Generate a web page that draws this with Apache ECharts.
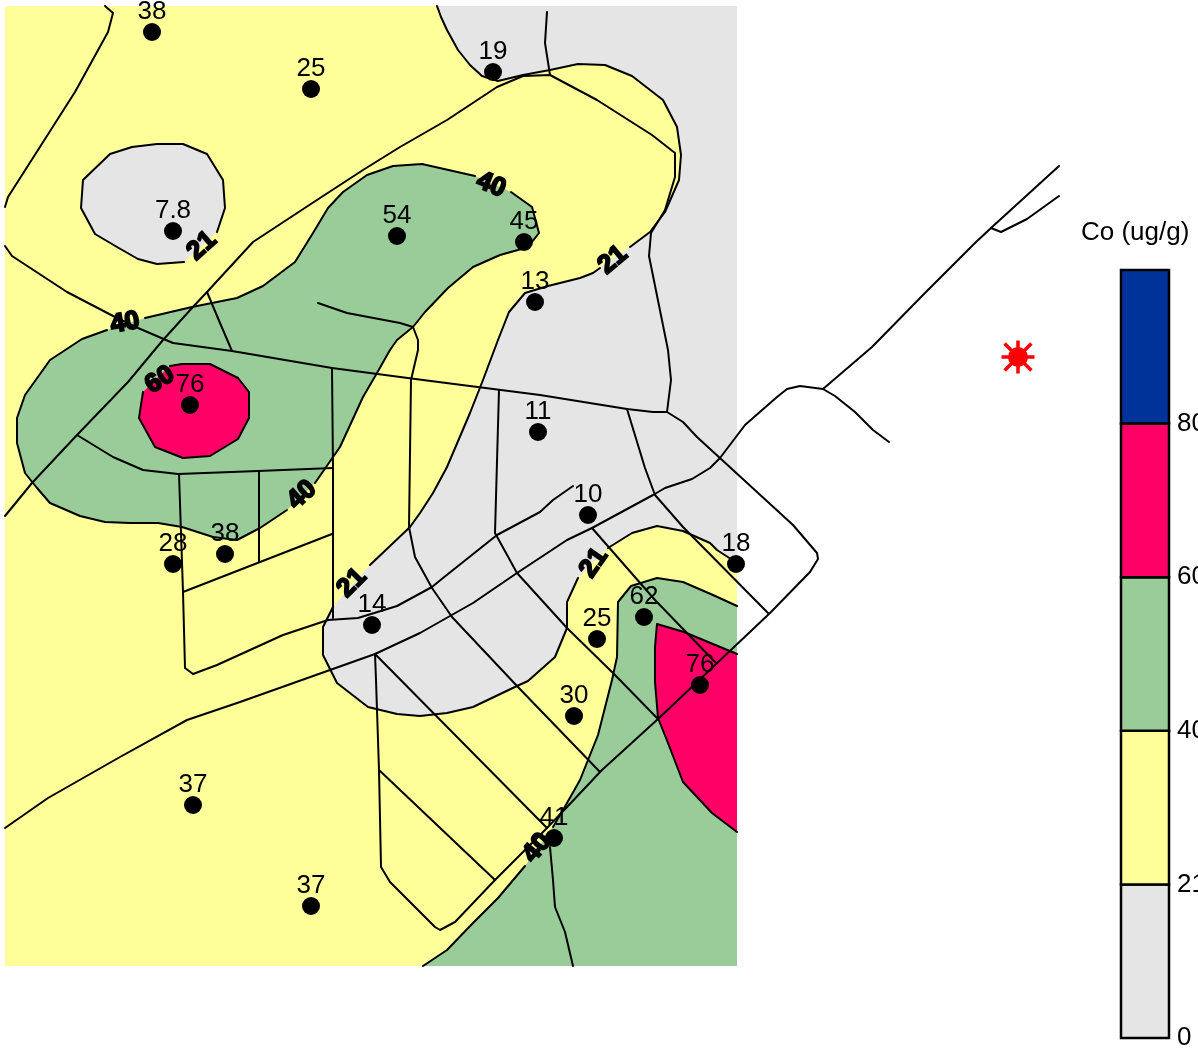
<!DOCTYPE html>
<html><head><meta charset="utf-8">
<style>html,body{margin:0;padding:0;background:#fff}#c{width:1198px;height:1049px}</style>
<script src="https://cdn.jsdelivr.net/npm/echarts@6/dist/echarts.min.js"></script>
</head><body><div id="c"></div>
<script>
// Map extent (map units = picture units)
const mapBox = [[5,6],[737,6],[737,966],[5,966]];

// Contour 21 : main boundary, broken at its labels
const c21a = [[437,6],[441,17],[447,30],[458,50],[470,65],[482,76],[498,81],[523,75],[550,70],[578,64],[605,65],[632,76],[663,100],[677,127],[681,155],[679,180],[665,212],[650,232],[630,247]];
const c21b = [[600,268],[593,273],[580,278],[548,286],[525,293],[509,312],[498,340],[483,380],[470,413],[447,467],[433,493],[420,513],[410,527],[370,565]];
const c21c = [[333,607],[323,627],[323,655],[332,673],[337,683],[368,707],[397,714],[420,716],[447,713],[473,707],[517,686],[528,681],[555,657],[567,628],[567,602],[578,578]];
const c21d = [[608,548],[632,533],[657,526],[683,531],[710,543],[717,550],[737,563]];
// Contour 21 : island round 7.8
const c21e = [[217,232],[225,208],[223,180],[207,154],[183,144],[157,144],[132,147],[110,154],[83,180],[81,208],[95,234],[117,247],[138,259],[157,264],[184,262]];
// Contour 40 : west body
const c40a = [[145,318],[192,307],[237,298],[263,286],[295,262],[313,233],[328,208],[343,192],[367,175],[393,166],[422,164],[475,176]];
const c40b = [[511,192],[532,207],[539,233],[532,242],[525,248],[500,255],[473,267],[448,288],[425,312],[413,327],[397,340],[390,350],[377,373],[363,397],[340,447],[315,483]];
const c40c = [[287,510],[260,528],[237,540],[213,537],[182,527],[158,523],[130,523],[105,522],[80,516],[50,503],[37,488],[25,473],[17,443],[17,418],[25,395],[50,360],[82,339],[107,330]];
// Contour 40 : south-east body
const c40d = [[423,966],[447,950],[473,923],[498,898],[525,866]];
const c40e = [[553,827],[567,803],[580,780],[598,735],[612,680],[617,657],[618,602],[631,586],[657,578],[683,582],[713,595],[737,606]];
// Contour 60 : west and south-east
const c60a = [[170,366],[182,364],[210,364],[222,370],[238,378],[249,392],[249,418],[238,439],[210,456],[183,458],[155,447],[139,418],[143,392]];
const c60b = [[737,654],[684,632],[657,624],[655,647],[655,682],[658,718],[668,743],[683,782],[712,813],[737,832]];

// Roads and shoreline tracks
const r01 = [[105,6],[113,13],[108,32],[75,92],[8,197],[5,207]];
const r02 = [[5,246],[12,256],[67,292],[115,317],[138,328],[173,343],[232,351],[332,368],[423,380],[540,395],[627,409],[653,412],[667,412],[683,422],[697,437],[793,525],[817,553],[818,559],[810,572],[770,613],[658,719],[602,770],[567,807],[547,828],[495,880],[455,922],[440,930],[435,927],[390,882],[381,867],[379,770],[376,680],[375,654]];
const r03 = [[667,412],[671,380],[668,350],[649,256],[651,233],[665,210],[675,177],[675,153],[652,135],[597,100],[550,75],[523,76],[497,87],[447,120],[400,147],[363,170],[320,198],[253,242],[207,292],[192,308],[163,340],[128,382],[77,435],[32,483],[5,516]];
const r04 = [[547,12],[545,43],[550,75]];
const r05 = [[77,435],[113,457],[143,470],[178,474],[258,471],[333,468]];
const r06 = [[332,368],[333,468],[333,618]];
const r07 = [[179,474],[183,592],[185,668],[193,674],[217,665],[283,635],[328,620],[358,618],[397,606],[432,587],[443,578],[497,535],[540,512],[553,500],[573,486]];
const r08 = [[183,592],[332,534]];
const r09 = [[259,471],[259,562]];
const r10 = [[207,292],[220,323],[232,351]];
const r11 = [[318,303],[347,313],[400,323],[413,327],[418,340],[418,350],[411,380],[409,527],[415,557],[432,588],[452,617],[517,686],[600,772]];
const r12 = [[5,828],[48,798],[120,757],[187,720],[240,702],[330,670],[375,654],[420,633],[473,603],[517,573],[567,540],[592,528],[653,495],[665,488],[692,479],[710,468],[720,458],[745,425],[777,397],[787,389],[800,386],[823,389],[835,396],[855,412],[873,430],[889,442]];
const r13 = [[823,389],[872,347],[923,295],[975,243],[991,228],[1059,166]];
const r14 = [[991,228],[1001,232],[1027,219],[1059,196]];
const r15 = [[499,390],[495,533],[517,573],[567,628],[613,673],[658,719]];
const r16 = [[375,654],[547,828]];
const r17 = [[379,770],[437,825],[495,880]];
const r18 = [[627,409],[645,468],[655,495],[683,527],[768,613]];
const r19 = [[592,528],[655,600],[715,662]];
const r20 = [[550,847],[553,880],[555,907],[565,932],[573,966]];

// Stations
const stationPoints = [[152,32],[311,89],[493,72],[173,231],[397,236],[524,242],[535,302],[190,405],[538,432],[588,515],[173,564],[225,554],[736,564],[372,625],[644,617],[597,639],[700,685],[574,716],[193,805],[554,838],[311,906]];
const stationValues = ['38','25','19','7.8','54','45','13','76','11','10','28','38','18','14','62','25','76','30','37','41','37'];

// Contour labels
const contourLabelPoints = [[125,323],[202,246],[491,185],[613,260],[160,380],[302,495],[352,583],[594,563],[537,848]];
const contourLabelText = ['40','21','40','21','60','40','21','21','40'];
const contourLabelAngle = [10,42,-22,40,32,42,45,55,50];

// Source marker
const sourcePoint = [[1018,357]];

// Colour key
const keyTicks = ['0','21','40','60','80',''];
const keyBandStart = [0,1,2,3,4];
const keyBandEnd = [1,2,3,4,5];
const keyColors = ['#E5E5E5','#FFFF99','#99CC99','#FF0066','#003399'];
const keyTitle = 'Co (ug/g)';

const GRAY='#E5E5E5',YEL='#FFFF99',GRN='#99CC99',PNK='#FF0066';
const FONT='"Liberation Sans", Arial, sans-serif';

const regions = [
  {pts:mapBox,fill:GRAY},
  {pts:[...c21a,...c21b,...c21c,...c21d,[737,966],[5,966],[5,6]],fill:YEL},
  {pts:c21e,fill:GRAY},
  {pts:[...c40a,...c40b,...c40c],fill:GRN},
  {pts:[...c40d,...c40e,[737,966]],fill:GRN},
  {pts:c60a,fill:PNK},
  {pts:[...c60b],fill:PNK}
];
const lines = [c21a,c21b,c21c,c21d,c21e,c40a,c40b,c40c,c40d,c40e,c60a,c60b,
  r01,r02,r03,r04,r05,r06,r07,r08,r09,r10,r11,r12,r13,r14,r15,r16,r17,r18,r19,r20];

const series = [{
  type:'custom',xAxisIndex:0,yAxisIndex:0,z:1,silent:true,clip:false,
  data:regions.map((r,i)=>[r.pts[0][0],r.pts[0][1],i]),
  encode:{x:0,y:1},
  renderItem:(p,api)=>{
    const r=regions[api.value(2)];
    return {type:'polygon',shape:{points:r.pts.map(q=>api.coord(q))},style:{fill:r.fill,stroke:null}};
  }
}];
lines.forEach(l=>series.push({
  type:'line',xAxisIndex:0,yAxisIndex:0,z:2,data:l,showSymbol:false,symbol:'none',silent:true,clip:false,
  lineStyle:{color:'#000',width:2,cap:'round',join:'round'}
}));
series.push({
  type:'scatter',xAxisIndex:0,yAxisIndex:0,z:3,silent:true,symbol:'circle',symbolSize:18,
  itemStyle:{color:'#000',opacity:1},
  data:stationPoints.map((p,i)=>({value:p,label:{formatter:stationValues[i]}})),
  label:{show:true,position:'top',distance:-1.5,color:'#000',fontSize:26,fontFamily:FONT}
});
series.push({
  type:'scatter',xAxisIndex:0,yAxisIndex:0,z:4,silent:true,symbolSize:1,
  itemStyle:{color:'transparent',opacity:1},
  data:contourLabelPoints.map((p,i)=>({value:p,label:{formatter:contourLabelText[i],rotate:contourLabelAngle[i]}})),
  label:{show:true,position:'inside',color:'#000',fontSize:26,fontWeight:'bold',fontFamily:FONT,textBorderColor:'#000',textBorderWidth:2}
});
series.push({
  type:'scatter',xAxisIndex:0,yAxisIndex:0,z:3,silent:true,data:sourcePoint,symbol:'circle',symbolSize:20,itemStyle:{color:'#FF0000',opacity:1}
});
series.push({
  type:'scatter',xAxisIndex:0,yAxisIndex:0,z:3,silent:true,data:sourcePoint,
  symbol:'path://M16 0V32M0 16H32M3 3L29 29M3 29L29 3',symbolSize:33,
  itemStyle:{color:'transparent',borderColor:'#FF0000',borderWidth:3.5,opacity:1}
});
series.push({
  type:'custom',xAxisIndex:1,yAxisIndex:1,z:2,silent:true,clip:false,
  data:keyBandStart.map((s,i)=>[0,s,1,keyBandEnd[i],i]),
  encode:{x:[0,2],y:[1,3]},
  renderItem:(p,api)=>{
    const a=api.coord([0,api.value(1)]),b=api.coord([1,api.value(3)]);
    return {type:'rect',shape:{x:a[0],y:b[1],width:b[0]-a[0],height:a[1]-b[1]},
      style:{fill:keyColors[api.value(4)],stroke:'#000',lineWidth:2.5}};
  }
});

const chart = echarts.init(document.getElementById('c'),null,{renderer:'canvas',width:1198,height:1049});
chart.setOption({
  animation:false,backgroundColor:'#fff',
  title:{text:keyTitle,left:1081,top:220,padding:0,textStyle:{color:'#000',fontSize:26,fontWeight:'normal',fontFamily:FONT}},
  legend:{show:false},tooltip:{show:false},
  grid:[
    {left:0,top:0,width:1198,height:1049,containLabel:false,show:false,outerBoundsMode:'none'},
    {left:1121,top:270,width:48,height:768,containLabel:false,show:false,outerBoundsMode:'none'}
  ],
  xAxis:[
    {type:'value',gridIndex:0,min:0,max:1198,show:false},
    {type:'value',gridIndex:1,min:0,max:1,show:false}
  ],
  yAxis:[
    {type:'value',gridIndex:0,min:0,max:1049,inverse:true,show:false},
    {type:'value',gridIndex:1,min:0,max:5,interval:1,position:'right',
     axisLine:{show:false},axisTick:{show:false},splitLine:{show:false},
     axisLabel:{show:true,margin:8,color:'#000',fontSize:26,fontFamily:FONT,hideOverlap:false,showMinLabel:true,showMaxLabel:true,
       formatter:v=>keyTicks[v]}}
  ],
  series
});
</script></body></html>
